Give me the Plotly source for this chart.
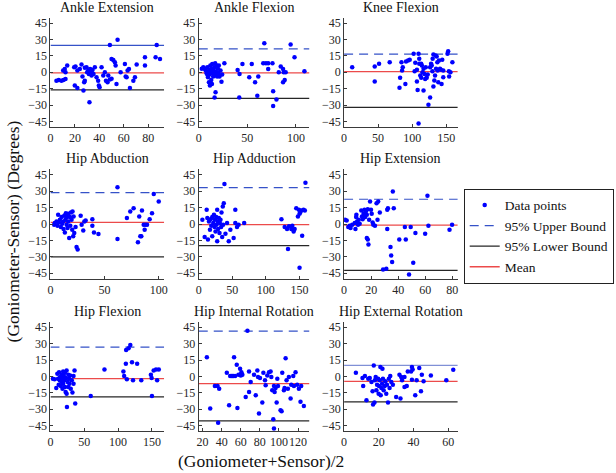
import plotly.graph_objects as go

W, H = 616, 473

titles = ["Ankle Extension", "Ankle Flexion", "Knee Flexion",
          "Hip Abduction", "Hip Adduction", "Hip Extension",
          "Hip Flexion", "Hip Internal Rotation", "Hip External Rotation"]

x_ranges = [[0, 93], [0, 114], [0, 167], [0, 105], [0, 165], [0, 84],
            [0, 168], [16, 132], [0, 65.5]]
x_ticks = [[0, 20, 40, 60, 80], [0, 50, 100], [0, 50, 100, 150],
           [0, 50, 100], [0, 50, 100, 150], [0, 20, 40, 60, 80],
           [0, 50, 100, 150], [20, 40, 60, 80, 100, 120], [0, 20, 40, 60]]
y_ticks = [-45, -30, -15, 0, 15, 30, 45]
y_range = [-50, 50]

upper_bound = [24.5, 21.4, 16.5, 28.8, 33.3, 22.7, 26.7, 41.5, 10.0]
lower_bound = [-16.2, -23.9, -32.1, -30.0, -19.7, -42.4, -18.8, -40.6, -23.3]
mean_diff = [-0.5, -0.6, 0.5, 1.5, -0.5, -0.9, -2.1, -6.7, -4.5]

ankle_ext_x = [4.9, 6.8, 9, 10.6, 12.3, 10.4, 11.7, 12.3, 13.7, 19.4, 20.5, 19.9, 22, 22, 24, 25.4, 26.2, 27,
               27.6, 28.1, 28.1, 29.5, 30, 30.9, 31.4, 31.9, 32.5, 33, 33.6, 34.4, 35.2, 36.3, 37.7, 39, 39.6,
               40.2, 41.8, 43.2, 44.5, 45.4, 46.7, 47.3, 48.6, 48.6, 50, 50, 51.4, 52.7, 53.3, 54.9, 54, 57.4,
               60.9, 61.5, 62.3, 63.1, 64.2, 65, 67.8, 69.1, 70.5, 77.3, 77.3, 86, 86.9, 89.6]
ankle_ext_y = [-7.7, -7, -7.7, -7, -6.1, 1.5, 3, 0, 6.1, 4.6, 5.2, -12.2, -14.4, 1.5, 3, 7, -4, -16.8,
               -9.2, -7.7, 4, 4.6, 0, 1.5, -1.5, -27.5, 3, 0, -3, 2, -1.5, 4.6, -4.6, -7.7, -12.2,
               -13.8, 4.6, -3, 0, -7.7, -9.2, -3, -6.7, 25, -6, 12.2, 11.3, 9.2, 6.1, 29.7, -10.7, 0,
               7.6, -4, -4.6, 1.5, 3, -14.4, -7.7, -4.6, 7, 6.1, 13.8, 13.8, 25, 12.2]

ankle_flex_x = [3.1, 4.7, 6.1, 7.1, 8.1, 8.8, 9.5, 10.2, 10.5, 11.2, 11.5, 11.9, 12.2, 12.9, 13.2, 13.9, 14.2,
                14.9, 15.6, 15.9, 16.3, 16.6, 16.9, 17.3, 17.6, 18.3, 18.6, 18.9, 19.7, 20.3, 20.7, 21.4, 22.4,
                23.4, 24.1, 26.4, 14.9, 10.9, 8.8, 13.6,
                40, 42, 41.7, 45, 52, 54.6, 58, 60.3, 61.3, 67.5, 66.4, 69.2, 71.5, 71.5, 75.9, 76.6, 76.6, 80,
                82.4, 84.4, 86.8, 87.5, 86.8, 88.5, 89.5, 94.6, 98.6, 108.8]
ankle_flex_y = [3.1, 4.6, 3.1, 1.5, -0.9, 4.6, -4.6, 0.9, -9.2, -2.1, -12.2, 6.1, 0, -7, 3.1, 7.6, -0.9,
                1.5, -3.1, 4.6, -23, 0.9, 8.3, -18.4, -2.1, 6.1, 0, -4, 3.1, -0.9, 6.1, -4, 1.5,
                -8.6, -2.1, 8.3, -4, 2.1, -2.1, -10.7,
                2.1, -1.5, -23, 7.6, -4.6, 7.6, -9.2, -21.4, -4, 26.6, 8.3, 8.3, 8.3, 3, 8.3, -17.4, -31, -25,
                0, 5.2, 3, 0, -9.2, -7, 0, 25.4, 13.8, 1]

knee_flex_x = [11.9, 45, 45, 51.4, 67, 81.4, 82.3, 84.3, 86.2, 90, 94,
               96.4, 102.2, 103.6, 104.6, 107, 107, 108, 109.4, 110.4, 110.4, 111.9, 113.3, 113.3, 114.2, 115.2,
               116.7, 116.7, 118.1, 119.1, 120, 121.4, 122.9, 123.9, 126.4, 126.4, 127.8, 128.7, 129.7, 130.1,
               131.2, 131.2, 132.6, 133.6, 134.5, 135.1, 136, 137, 137.4, 138.4, 139.4, 140.9, 142.3, 143.2,
               144.2, 145.7, 145.7, 151.9, 152.9, 153.9, 154.3, 156.2, 159.1, 109.4, 91, 85.2]
knee_flex_y = [4.6, -8.5, 5.2, 7.7, 9.2, -14.3, -5.1, 9.2, 4.6, -10.7, 10.7,
               11.4, 16.9, 0.9, 8.6, 2.2, -8.5, -16.2, 16.9, 12.3, 7.7, -3, 7.7, -5.1, 6.2, 0,
               -16.8, 3.1, -1.5, -6.1, 4.6, -5.1, -2.1, -29.7, -23, 4.6, 7.7, 6.2, 0.9, 12.3,
               -13.1, 16.3, -7.6, -3, 15.3, 3.1, 14.4, 9.2, 1.6, -9.2, 10.7, 3.1, 2.2, -10.7,
               11.4, 1.6, -4.6, 16.9, 19.3, 0.9, -3.9, 0, 9.2, -46.8, 9.8, 1.6]

hip_abd_x = [3.4, 4, 5.6, 6.5, 7.1, 7.7, 8.7, 9.6, 10.2, 10.8, 11.8, 12.1, 12.7, 13.3, 13.9, 14.2, 14.9, 15.2,
             15.8, 16.4, 16.4, 17.3, 18, 18.3, 18.9, 19.5, 20.1, 20.4, 21, 21.4, 22, 23.2, 24.1, 25.1, 27.9,
             28.8, 30.3, 31.3, 32.5, 38.7, 38.7, 40.2, 44.3, 61.9, 61.9, 70.6, 73.7, 76.8, 80.8, 82, 83, 83.9,
             84.5, 86.1, 87, 87.6, 89.2, 91.6, 93.8, 95.4, 100]
hip_abd_y = [-0.6, 0.9, 2.4, -1.5, 8.5, 1.5, 3.9, -2.7, 6.4, 0.3, 2.4, -4.5, 7.6, -7.6, 3.9, 10, -0.6, 6.4,
             -3.6, 9.4, 2.4, -12.7, 6.4, -1.5, 10.6, 3.9, -5.2, 11.5, -11.2, 7, -8.2, -2.7, -20.9, -23.3, 7.6,
             -0.6, -5.8, 2.4, 3.3, 4.5, -1.5, -7.6, -9.1, 33.6, -13.6, 5.5, 11.5, 14.5, -16.7, 7, -11.2, -11.2,
             12.4, -0.6, -5.2, -0.6, -0.6, 4.5, 10, 27.6, 20.6]

hip_add_x = [5.4, 8.8, 11.8, 12.8, 13.7, 15.2, 16.7, 17.7, 18.7, 20.1, 20.1, 21.6, 22.6, 23.6, 24.1, 25, 26,
             26.5, 27.5, 27.5, 28.5, 28.9, 29.9, 30.9, 31.4, 32.4, 33.4, 33.9, 34.9, 35.8, 36.3, 37.3, 38.3,
             39.8, 42.2, 44.7, 47.1, 52, 54.5, 54.5, 57, 59.4, 67.7, 123.2, 128.1, 131.6, 133, 134.5, 137.9,
             139.4, 141.4, 142.9, 145.3, 147.8, 149.2, 150.2, 150.2, 151.2, 152.7, 154.1, 156.1, 159, 158.1]
hip_add_y = [3.9, -11.8, 13, 5.5, -14.2, 2.4, -5.2, 4.5, -1.5, 6.4, -11.2, 0.9, 8.5, -2.7, 3.9, -6.7, 6.4,
             -0.6, 13, -15.8, 2.4, -4.5, 5.5, -8.2, 0.9, 3.9, -2.7, 10.6, -11.8, 16.1, -0.6, 19.1, 36.7,
             -8.8, 0.9, -15.8, -5.2, -12.7, 13, 0.9, -2.7, -0.6, 0.9, 4.5, -2.7, -4.5, -22.7, -2.1, -4.5,
             -1.5, -6.7, -4.5, 14.5, 7, 13, -40, 9.4, 10.6, 12.4, -10.6, 13, 37.9, 12.4]

hip_ext_x = [0.7, 1.9, 3.1, 4.1, 4.8, 6, 7.9, 8.4, 8.9, 9.1, 9.6, 10.3, 10.8, 11.5, 12.7, 13.2, 13.7, 14.4,
             15.1, 15.6, 16.1, 16.8, 16.8, 17.5, 17.5, 18, 18.5, 19.2, 19.9, 20.4, 21.1, 21.6, 22.8, 24, 24.7,
             25.2, 26.4, 28.8, 31.2, 31.9, 31.9, 32.4, 34.3, 34.8, 35.5, 36, 36.7,
             40.8, 44.9, 49.2, 51.1, 48, 45.6, 52.7, 59.9, 61.6, 62.3, 77.9, 79.8]
hip_ext_y = [3.9, 3.3, -2.7, -1.5, -3.6, -0.6, 0.9, -4.5, 6.4, 8.5, 2.4, -0.6, 3.9, 0.3, 12.4, 7, 4.5, 9.4,
             13, 6.4, 11.5, -12.7, 8.5, -14.2, 13.6, -18.8, 3.9, 20.6, 13, 9.4, 1.5, -0.6, -1.5, 19.1, 3.9,
             20.6, 10.6, -41.5, -40.9, 13, -4.5, 14.5, -20.9, -28.8, -34.8, 29.7, 14.5,
             -14.2, -2.7, -2.7, -35.5, -46.1, -14.2, -8.2, -8.8, 25.8, -1.5, -5.2, -0.6]

hip_flex_x = [3.6, 6.1, 8.6, 10.2, 11.2, 12.2, 12.7, 13.7, 14.2, 15.3, 16.3, 16.3, 17.3, 17.8, 18.8, 18.8,
              19.8, 20.3, 21.4, 21.4, 22.4, 22.9, 23.9, 23.9, 24.4, 25.4, 26.4, 26.4, 27.5, 28, 29, 30, 31.5,
              32.5, 34.1, 34.1, 35.6, 36.6, 59.5, 79.8, 107.8, 108.9, 111.4, 111.8, 112.9, 115.4, 118, 120.5,
              122, 128.1, 134.2, 148.4, 149.5, 150, 152.5, 156, 157.6, 160.1]
hip_flex_y = [-2.1, -2.7, -10.6, 2.4, -2.1, -7.6, 3.9, -3.6, -0.6, -8.8, 1.5, -5.2, -2.1, -11.2, 4.5, -6.7,
              0.3, -3.6, -9.7, 3.3, -14.2, -1.5, -15.8, 5.5, -27.9, -5.2, 1.5, -9.7, -2.1, -6.7, 0.9, -11.2, -3.6,
              -14.8, -6.7, 0.3, 5.5, -24.8, -17.9, 6.4, 4.5, 0.3, 11.5, 24.2, -2.7, 25.8, 28.8, 13,
              -3.6, 11.5, -3.6, 1.5, -1.5, -17.9, 5.5, 6.4, -3.6, 6.4]

hip_int_x = [24.5, 28, 32.9, 35.7, 37.4, 36.3, 45.4, 47.8, 48.9, 50.3, 51.3, 52.3, 53, 54.1, 55.8, 56.5, 57.6,
             59.3, 60, 60.7, 61.7, 65.2, 67, 68.7, 68.7, 70.4, 73.9, 75.7, 77.4, 78.1, 79.1, 80.2, 82.6, 83.7,
             85.4, 86.1, 87.8, 89.6, 91.3, 92, 93, 94.1, 94.8, 94.8, 95.5, 96.5, 97.6, 98.3, 99, 101.7, 102.8,
             103.5, 105.2, 105.9, 107, 108, 109.4, 110.4, 112.2, 112.9, 115, 115.7, 117.4, 119.1, 120.9,
             122.6, 123.3, 126.1]
hip_int_y = [17.6, -29.4, -8.8, -8.8, -11.2, -42.4, 3.3, -26.4, 0.3, 0.3, 0.3, 0.3, 17.6, 0.3, 10.6, -28.8, 1.5,
             7, 0.9, 3.9, 1.5, -18.8, 41.8, 4.5, -14.2, -5.2, 1.5, -17.3, 5.5, -0.6, -33.9, -1.5, -23.9, 3.3,
             -3.6, -8.2, 0.9, 3.9, 4.5, -0.6, -12.7, -39.1, -8.8, -47.6, -14.2, -10.6, -23.9, -2.1, -8.8, -30.9,
             -31.8, 3.3, -12.7, -10.6, 16.7, -3.6, -11.2, -0.6, -20.3, -7.6, 0.3, -8.8, 3.9, -7.6, -11.2,
             -23.3, -8.8, -27]

hip_extrot_x = [6.8, 10.6, 11, 12, 12.9, 13.9, 14.8, 15.8, 16.4, 16.7, 17.1, 17.5, 17.7, 18.2, 18.6, 19, 19.6,
                19.9, 20.1, 20.5, 20.9, 21.1, 21.5, 21.9, 22.1, 22.4, 22.8, 23.4, 23.8, 24.3, 24.7, 25.3, 25.8,
                26.2, 26.6, 27.2, 28.1, 30, 31.9, 32.5, 33.4, 34.8, 36.1, 36.7,
                32.9, 34.8, 38.6, 39.1, 39.5, 39.1, 41, 41.8, 43.3, 44.3, 44.8, 45.8, 50, 58.9, 62.9]
hip_extrot_y = [3.3, -1.5, -8.8, 0.3, -21.8, -2.1, -1.5, -5.2, -13.6, -25.8, 10, -23.9, -3.6, -0.6, -12.7, -7.6,
                -2.1, -15.8, -8.8, -3.6, 8.5, -17.3, -10.6, -6.7, 7, -2.1, -12.7, -8.8, -4.5, -15.8, -7.6, -23.9,
                -2.1, -10.6, 0.3, -5.2, -7.6, -18.8, 1.5, -20.3, -3.6, -0.6, -8.8, 4.5,
                -0.6, -9.7, 4.5, 8.5, 6.4, -3, -17.3, -3.6, 7.6, -13.6, 1.5, -4.5, 0.9, -3.6, 6.1]

xs = [ankle_ext_x, ankle_flex_x, knee_flex_x, hip_abd_x, hip_add_x, hip_ext_x, hip_flex_x, hip_int_x, hip_extrot_x]
ys = [ankle_ext_y, ankle_flex_y, knee_flex_y, hip_abd_y, hip_add_y, hip_ext_y, hip_flex_y, hip_int_y, hip_extrot_y]

FONT = "Liberation Serif, Times New Roman, serif"
col_px = [(48, 163), (198, 310), (345, 460)]
row_px = [(16.7, 126.7), (169.5, 279.5), (322.8, 432.8)]
solid_upper = {0, 8}
UPPER_C, LOWER_C, MEAN_C = "#3552c8", "#262626", "#ec4a4a"
upper_colors = {8: "#8090d6"}

fig = go.Figure()
annotations = []
for i in range(9):
    r, c = divmod(i, 3)
    sfx = "" if i == 0 else str(i + 1)
    xa, ya = "x" + sfx, "y" + sfx
    x0, x1 = x_ranges[i]
    first = (i == 0)
    fig.add_trace(go.Scatter(x=[x0, x1], y=[upper_bound[i]] * 2, mode="lines",
                             line=dict(color=upper_colors.get(i, UPPER_C), width=1.2,
                                       dash="solid" if i in solid_upper else "9px,6px"),
                             name="95% Upper Bound", legendgroup="u", legendrank=2,
                             showlegend=False, xaxis=xa, yaxis=ya, hoverinfo="skip"))
    fig.add_trace(go.Scatter(x=[x0, x1], y=[lower_bound[i]] * 2, mode="lines",
                             line=dict(color=LOWER_C, width=1.2),
                             name="95% Lower Bound", legendgroup="l", legendrank=3,
                             showlegend=first, xaxis=xa, yaxis=ya, hoverinfo="skip"))
    fig.add_trace(go.Scatter(x=[x0, x1], y=[mean_diff[i]] * 2, mode="lines",
                             line=dict(color=MEAN_C, width=1.3),
                             name="Mean", legendgroup="m", legendrank=4,
                             showlegend=first, xaxis=xa, yaxis=ya, hoverinfo="skip"))
    fig.add_trace(go.Scatter(x=xs[i], y=ys[i], mode="markers",
                             marker=dict(color="#0000ff", size=4.5),
                             name="Data points", legendgroup="d", legendrank=1,
                             showlegend=first, xaxis=xa, yaxis=ya))
    cx0, cx1 = col_px[c]
    ry0, ry1 = row_px[r]
    axis_common = dict(showline=True, linecolor="#3a3a3a", linewidth=1, ticks="inside",
                       ticklen=3, tickcolor="#3a3a3a", showgrid=False, zeroline=False,
                       tickfont=dict(family=FONT, size=12, color="#262626"))
    fig.layout["xaxis" + sfx] = dict(domain=[cx0 / W, cx1 / W], range=[x0, x1], anchor=ya,
                                     tickmode="array", tickvals=x_ticks[i], tickangle=0,
                                     **axis_common)
    fig.layout["yaxis" + sfx] = dict(domain=[1 - ry1 / H, 1 - ry0 / H], range=y_range, anchor=xa,
                                     tickmode="array", tickvals=y_ticks, **axis_common)
    annotations.append(dict(text=titles[i], xref="paper", yref="paper",
                            x=(cx0 + cx1) / 2 / W, y=1 - ry0 / H, xanchor="center", yanchor="bottom",
                            yshift=1, showarrow=False,
                            font=dict(family=FONT, size=14, color="#111111")))

# legend-only entry showing the dashed upper-bound style
fig.add_trace(go.Scatter(x=[None], y=[None], mode="lines",
                         line=dict(color=UPPER_C, width=1.2, dash="9px,6px"),
                         name="95% Upper Bound", legendgroup="u", legendrank=2, showlegend=True,
                         xaxis="x", yaxis="y"))

annotations.append(dict(text="(Goniometer+Sensor)/2", xref="paper", yref="paper",
                        x=261 / W, y=1 - 463 / H, xanchor="center", yanchor="middle",
                        showarrow=False, font=dict(family=FONT, size=17.5, color="#111111")))
annotations.append(dict(text="(Goniometer-Sensor) (Degrees)", xref="paper", yref="paper",
                        x=10 / W, y=1 - 232 / H, xanchor="center", yanchor="middle", textangle=-90,
                        showarrow=False, font=dict(family=FONT, size=17.5, color="#111111")))

fig.update_layout(
    width=W, height=H, autosize=False,
    margin=dict(l=0, r=0, t=0, b=0),
    paper_bgcolor="white", plot_bgcolor="white",
    annotations=annotations,
    showlegend=True,
    legend=dict(x=466 / W, y=1 - 189 / H, xanchor="left", yanchor="top",
                bordercolor="#222222", borderwidth=1, bgcolor="white",
                font=dict(family=FONT, size=13.5, color="#111111"),
                itemwidth=30, tracegroupgap=0),
)

fig.write_html("out.html", config={"displayModeBar": False},
               post_script="document.body.style.margin='0';document.body.style.padding='0';")
